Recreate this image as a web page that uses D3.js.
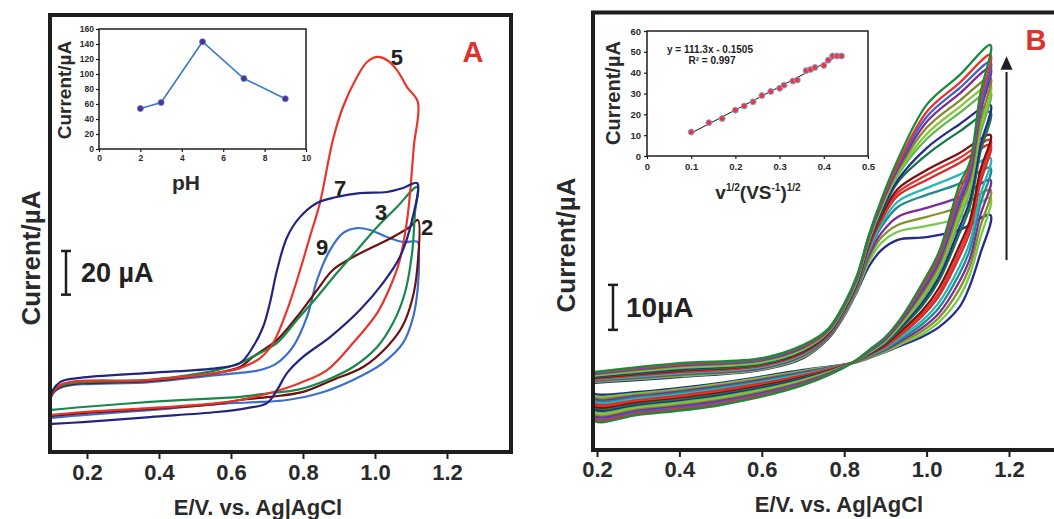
<!DOCTYPE html>
<html>
<head>
<meta charset="utf-8">
<script src="https://cdn.jsdelivr.net/npm/d3@7"></script>
<style>
  body { margin: 0; background: #fff; }
  svg { display: block; font-family: "Liberation Sans", Arial, sans-serif; font-weight: bold; }
</style>
</head>
<body>
<svg id="chart" width="1054" height="519"></svg>
<script>
// ---- panel A : CVs at different pH (E in V, I in uA, arbitrary zero) ----
const cvPH2 = [[0.10,16.5],[0.10,25.2],[0.125,29.7],[0.375,32.5],[0.561,36.2],[0.625,38.9],[0.661,43.5],[0.728,51.3],[0.783,61.8],[0.839,74.1],[0.883,83.3],[0.939,89.2],[0.994,93.8],[1.050,98.4],[1.097,103.0],[1.119,106.2],
  [1.117,83.3],[1.103,69.6],[1.075,57.2],[1.033,48.1],[0.967,38.9],[0.883,33.0],[0.800,27.5],[0.708,25.2],[0.625,23.8],[0.561,22.0],[0.375,19.7],[0.189,17.8],[0.10,16.5]];
const cvPH3 = [[0.10,19.2],[0.10,26.1],[0.125,30.2],[0.375,33.0],[0.561,37.5],[0.625,40.7],[0.653,43.0],[0.728,49.9],[0.783,60.4],[0.839,70.9],[0.894,81.9],[0.950,92.4],[1.006,103.0],[1.061,112.1],[1.117,121.3],
  [1.111,109.4],[1.103,91.1],[1.083,72.8],[1.050,59.0],[1.006,48.1],[0.939,38.9],[0.867,33.0],[0.783,28.4],[0.708,27.0],[0.625,25.2],[0.569,24.7],[0.375,22.9],[0.189,20.6],[0.10,19.2]];
const cvPH5 = [[0.10,16.9],[0.10,25.2],[0.125,30.7],[0.375,33.0],[0.561,36.2],[0.625,38.4],[0.681,43.0],[0.717,49.9],[0.756,65.0],[0.792,83.3],[0.819,98.4],[0.847,114.0],[0.883,142.8],[0.911,157.9],[0.950,171.6],[0.978,178.5],[1.006,180.8],[1.033,179.4],[1.061,174.8],[1.089,167.0],[1.119,160.2],
  [1.108,140.0],[1.097,118.0],[1.089,106.0],[1.069,87.9],[1.042,75.5],[1.006,63.6],[0.939,49.9],[0.867,37.5],[0.792,31.6],[0.708,27.0],[0.625,23.8],[0.561,22.4],[0.375,20.1],[0.189,18.3],[0.10,16.9]];
const cvPH7 = [[0.10,12.8],[0.10,26.1],[0.125,32.0],[0.181,33.9],[0.375,36.2],[0.561,38.4],[0.625,40.7],[0.661,48.1],[0.689,57.2],[0.708,68.2],[0.728,83.3],[0.756,98.4],[0.792,107.6],[0.839,114.0],[0.894,116.7],[0.958,118.5],[1.033,119.0],[1.078,120.8],[1.117,123.1],
  [1.103,106.2],[1.069,89.2],[1.022,77.3],[0.958,65.0],[0.875,52.6],[0.800,43.5],[0.756,36.2],[0.728,28.4],[0.700,22.4],[0.644,20.1],[0.561,18.3],[0.375,16.0],[0.189,13.7],[0.10,12.8]];
const cvPH9 = [[0.10,15.6],[0.10,25.2],[0.125,29.3],[0.375,32.0],[0.561,35.2],[0.625,36.2],[0.681,37.5],[0.728,40.7],[0.772,48.1],[0.811,61.8],[0.839,78.7],[0.875,92.4],[0.911,100.2],[0.950,102.5],[0.986,101.6],[1.033,98.4],[1.078,96.1],[1.119,96.1],
  [1.122,91.1],[1.119,75.5],[1.106,61.8],[1.078,49.9],[1.022,40.7],[0.939,33.0],[0.847,27.0],[0.756,23.8],[0.681,22.9],[0.569,22.0],[0.375,19.2],[0.189,16.9],[0.10,15.6]];

// inset A : peak current vs pH
const phValues = [2, 3, 5, 7, 9];
const phCurrents = [54, 62, 143, 94, 67];

// ---- panel B : CVs at increasing scan rate ----
const scanFwdE = [0.19, 0.40, 0.60, 0.70, 0.76, 0.80, 0.83, 0.86, 0.89, 0.93, 1.00, 1.08, 1.155];
const scanRevE = [1.155, 1.13, 1.105, 1.08, 1.03, 0.99, 0.94, 0.90, 0.86, 0.82, 0.70, 0.50, 0.30, 0.19];
const scanFwdI = [
  [17.3,19.3,20.4,23.3,26.8,32.5,38.5,47.8,55.6,64.5,76.7,83.3,90.0],
  [17.2,19.1,20.3,23.1,26.7,32.4,38.3,47.6,55.2,63.5,75.1,81.6,87.8],
  [17.0,19.0,20.1,23.0,26.6,32.2,38.1,47.4,55.0,63.0,74.0,80.4,86.2],
  [16.9,18.8,20.0,22.8,26.5,32.1,37.9,47.2,54.6,62.5,72.9,79.2,84.9],
  [16.8,18.6,19.8,22.6,26.3,31.9,37.7,47.0,54.3,62.0,71.6,77.6,82.7],
  [16.6,18.4,19.6,22.4,26.2,31.8,37.5,46.8,54.0,61.5,70.2,76.2,81.1],
  [16.5,18.2,19.4,22.3,26.1,31.6,37.3,46.5,53.6,61.0,69.1,74.9,79.6],
  [16.3,18.0,19.3,22.1,25.9,31.5,37.1,46.2,53.0,60.0,67.1,72.4,76.7],
  [16.2,17.8,19.1,22.0,25.8,31.3,36.9,46.0,52.6,59.5,65.6,70.8,75.1],
  [16.0,17.6,19.0,21.8,25.7,31.2,36.7,45.6,52.0,58.0,62.2,66.0,70.0],
  [15.9,17.4,18.8,21.6,25.5,31.0,36.5,45.3,51.5,57.2,61.1,64.9,68.9],
  [15.8,17.3,18.7,21.5,25.4,30.9,36.3,45.0,51.0,56.5,60.0,63.8,67.8],
  [15.6,17.1,18.5,21.3,25.3,30.7,36.1,44.5,50.2,55.2,58.2,61.2,64.9],
  [15.5,16.9,18.4,21.2,25.2,30.6,35.9,44.0,49.5,54.0,56.7,59.2,62.7],
  [15.4,16.8,18.2,21.0,25.0,30.4,35.7,43.3,48.2,51.8,53.8,56.2,60.0],
  [15.2,16.6,18.1,20.8,24.9,30.2,35.5,42.6,47.2,50.0,51.8,54.0,57.8],
  [15.1,16.4,17.9,20.6,24.8,30.0,35.2,41.8,46.0,48.5,49.8,51.6,56.0],
  [14.9,16.2,17.8,20.4,24.6,29.8,35.0,40.8,44.4,46.7,47.3,48.9,52.2]
];
const scanRevI = [
  [90.0,79.0,64.0,59.0,44.0,37.1,29.6,25.1,22.2,19.4,14.4,10.0,7.8,6.7],
  [87.8,77.5,63.0,57.5,43.2,36.5,29.4,25.0,22.1,19.4,14.6,10.3,8.1,7.0],
  [86.2,76.0,62.0,56.0,42.5,36.0,29.2,24.8,22.0,19.4,14.8,10.6,8.4,7.3],
  [84.9,74.8,61.0,55.0,41.8,35.4,28.9,24.6,21.9,19.4,15.0,10.9,8.7,7.7],
  [82.7,73.0,59.8,53.8,41.0,34.8,28.6,24.5,21.8,19.4,15.2,11.2,9.0,8.0],
  [81.1,71.5,58.5,52.5,40.2,34.2,28.3,24.3,21.7,19.4,15.4,11.5,9.3,8.4],
  [79.6,70.0,57.5,51.2,39.5,33.6,28.0,24.1,21.6,19.4,15.6,11.8,9.6,8.7],
  [76.7,67.5,55.5,49.5,38.5,32.8,27.6,23.9,21.5,19.4,15.8,12.1,9.9,9.1],
  [75.1,66.0,54.0,48.2,37.6,32.1,27.2,23.7,21.4,19.4,16.0,12.4,10.2,9.4],
  [70.0,62.0,51.0,45.5,36.0,31.0,26.6,23.4,21.3,19.4,16.2,12.7,10.5,9.8],
  [68.9,60.5,49.8,44.2,35.0,30.4,26.2,23.2,21.2,19.4,16.4,13.0,10.8,10.1],
  [67.8,59.2,48.5,43.0,34.2,29.8,25.8,23.0,21.1,19.4,16.6,13.3,11.1,10.5],
  [64.9,56.5,46.2,40.8,32.8,28.8,25.3,22.7,21.0,19.4,16.8,13.6,11.4,10.8],
  [62.7,54.5,44.5,39.2,31.6,28.0,24.8,22.5,20.9,19.4,17.0,13.9,11.7,11.2],
  [60.0,52.0,42.5,37.5,30.4,27.2,24.4,22.3,20.8,19.4,17.2,14.2,12.0,11.5],
  [57.8,49.5,40.8,35.8,29.4,26.5,24.0,22.1,20.6,19.3,17.4,14.4,12.3,11.9],
  [56.0,47.0,39.0,34.0,28.4,25.8,23.6,21.9,20.5,19.3,17.6,14.7,12.6,12.3],
  [52.2,43.5,36.5,31.8,27.3,25.2,23.3,21.8,20.4,19.3,17.8,14.9,12.9,12.7]
];
const scanColors = ['#1b8a3e','#e8322b','#3b63c9','#7e2b9b','#808a2b','#8cc63f','#5fb84a','#262c8a','#15784a',
                    '#7a1212','#e8322b','#d42b2b','#2bb7ba','#1f8b8c','#7e2b9b','#87902c','#78c94a','#262c8a'];

// inset B : peak current vs sqrt(scan rate)
const sqrtRate = [0.10,0.14,0.17,0.20,0.22,0.24,0.26,0.28,0.30,0.31,0.33,0.34,0.36,0.37,0.38,0.40,0.41,0.42,0.43,0.44];
const rateCurrents = [11.5,16,18,22,24,26,29,31,32.5,34,36,36.5,41,41.5,42.5,43.5,46,48,48,48];
const fitSlope = 111.3, fitIntercept = -0.1505;

const potentialTicks = [0.2, 0.4, 0.6, 0.8, 1.0, 1.2];

const svg = d3.select('#chart');
const ink = '#1e1e1e';

// strip d3's default axis font so the svg font is used
function styleAxis(g, size, lineW) {
  g.attr('font-family', null).attr('font-size', null);
  g.select('.domain').remove();
  g.selectAll('line').attr('stroke', ink).attr('stroke-width', lineW);
  g.selectAll('text').attr('font-size', size).attr('fill', '#2a2a2a');
}

// ---------- panel A ----------
const xA = d3.scaleLinear().domain([0.2, 1.2]).range([87, 447]);
const yA = d3.scaleLinear().domain([0, 200]).range([452, 15]);

svg.append('clipPath').attr('id', 'clipA')
  .append('rect').attr('x', 52).attr('y', 17).attr('width', 457).attr('height', 433);

const lineA = d3.line().x(d => xA(d[0])).y(d => yA(d[1])).curve(d3.curveCatmullRom.alpha(0.5));
const curvesA = [
  { data: cvPH9, color: '#3a6fd0' },
  { data: cvPH2, color: '#6e0f10' },
  { data: cvPH3, color: '#17894a' },
  { data: cvPH5, color: '#e8352b' },
  { data: cvPH7, color: '#222580' }
];
svg.append('g').attr('clip-path', 'url(#clipA)')
  .selectAll('path').data(curvesA).join('path')
  .attr('d', d => lineA(d.data))
  .attr('fill', 'none').attr('stroke', d => d.color).attr('stroke-width', 2.2);

svg.append('rect').attr('x', 50).attr('y', 15).attr('width', 461).attr('height', 437)
  .attr('fill', 'none').attr('stroke', ink).attr('stroke-width', 4);

const axA = svg.append('g').attr('transform', 'translate(0,454)')
  .call(d3.axisBottom(xA).tickValues(potentialTicks).tickFormat(d3.format('.1f')).tickSize(5).tickPadding(5));
styleAxis(axA, 22, 2);

svg.append('text').attr('x', 258).attr('y', 515).attr('text-anchor', 'middle')
  .attr('font-size', 22).attr('fill', '#2a2a2a').text('E/V. vs. Ag|AgCl');
svg.append('text').attr('transform', 'translate(40,258) rotate(-90)').attr('text-anchor', 'middle')
  .attr('font-size', 26).attr('fill', '#2a2a2a').text('Current/µA');

// scale bar 20 uA
const barA = svg.append('g').attr('stroke', ink).attr('stroke-width', 2.5);
barA.append('line').attr('x1', 66).attr('x2', 66).attr('y1', yA(92)).attr('y2', yA(72));
barA.append('line').attr('x1', 61).attr('x2', 71).attr('y1', yA(92)).attr('y2', yA(92));
barA.append('line').attr('x1', 61).attr('x2', 71).attr('y1', yA(72)).attr('y2', yA(72));
svg.append('text').attr('x', 81).attr('y', 282).attr('font-size', 27).attr('fill', '#222').text('20 µA');

// pH labels on curves
const phLabelPos = [['5', 1.061, 180.8], ['7', 0.903, 120.8], ['3', 1.017, 109.8], ['2', 1.145, 103.0], ['9', 0.853, 93.8]];
svg.append('g').selectAll('text').data(phLabelPos).join('text')
  .attr('x', d => xA(d[1])).attr('y', d => yA(d[2]) + 8)
  .attr('text-anchor', 'middle').attr('font-size', 22).attr('fill', '#222').text(d => d[0]);

svg.append('text').attr('x', 473).attr('y', 62).attr('text-anchor', 'middle')
  .attr('font-size', 29).attr('fill', '#e0322c').text('A');

// inset A
const ixA = d3.scaleLinear().domain([0, 10]).range([99, 306]);
const iyA = d3.scaleLinear().domain([0, 160]).range([149, 29]);
svg.append('rect').attr('x', 99).attr('y', 29).attr('width', 207).attr('height', 120)
  .attr('fill', '#fff').attr('stroke', ink).attr('stroke-width', 1.5);
const iaxX = svg.append('g').attr('transform', 'translate(0,149)')
  .call(d3.axisBottom(ixA).tickValues([0, 2, 4, 6, 8, 10]).tickSize(3).tickPadding(3));
const iaxY = svg.append('g').attr('transform', 'translate(99,0)')
  .call(d3.axisLeft(iyA).tickValues(d3.range(0, 161, 20)).tickSize(3).tickPadding(2));
styleAxis(iaxX, 8.5, 1.2);
styleAxis(iaxY, 8.5, 1.2);
svg.append('path')
  .attr('d', d3.line().x(d => ixA(d[0])).y(d => iyA(d[1]))(phValues.map((v, i) => [v, phCurrents[i]])))
  .attr('fill', 'none').attr('stroke', '#3a78c8').attr('stroke-width', 1.6);
svg.append('g').selectAll('circle').data(phValues).join('circle')
  .attr('cx', d => ixA(d)).attr('cy', (d, i) => iyA(phCurrents[i])).attr('r', 3)
  .attr('fill', '#5a2d90').attr('stroke', '#4b7fd0').attr('stroke-width', 0.8);
svg.append('text').attr('transform', 'translate(71,90) rotate(-90)').attr('text-anchor', 'middle')
  .attr('font-size', 19).attr('fill', '#2a2a2a').text('Current/µA');
svg.append('text').attr('x', 186).attr('y', 190).attr('text-anchor', 'middle')
  .attr('font-size', 21).attr('fill', '#2a2a2a').text('pH');

// ---------- panel B ----------
const xB = d3.scaleLinear().domain([0.2, 1.2]).range([597, 1009]);
const yB = d3.scaleLinear().domain([0, 97.33]).range([450, 12]);

svg.append('clipPath').attr('id', 'clipB')
  .append('rect').attr('x', 595).attr('y', 14.5).attr('width', 500).attr('height', 433.5);

const lineB = d3.line().x(d => xB(d[0])).y(d => yB(d[1])).curve(d3.curveCatmullRom.alpha(0.5));
const loopsB = scanFwdI.map((fwd, k) => {
  const pts = scanFwdE.map((e, i) => [e, fwd[i]]);
  scanRevE.forEach((e, i) => { if (i > 0) pts.push([e, scanRevI[k][i]]); });
  pts.push([scanFwdE[0], fwd[0]]);
  return { pts, color: scanColors[k] };
}).reverse();
svg.append('g').attr('clip-path', 'url(#clipB)')
  .selectAll('path').data(loopsB).join('path')
  .attr('d', d => lineB(d.pts))
  .attr('fill', 'none').attr('stroke', d => d.color).attr('stroke-width', 2.3);

svg.append('rect').attr('x', 593).attr('y', 12.5).attr('width', 500).attr('height', 437.5)
  .attr('fill', 'none').attr('stroke', ink).attr('stroke-width', 4);

const axB = svg.append('g').attr('transform', 'translate(0,452)')
  .call(d3.axisBottom(xB).tickValues(potentialTicks).tickFormat(d3.format('.1f')).tickSize(5).tickPadding(4));
styleAxis(axB, 22, 2);

svg.append('text').attr('x', 839).attr('y', 512).attr('text-anchor', 'middle')
  .attr('font-size', 22).attr('fill', '#2a2a2a').text('E/V. vs. Ag|AgCl');
svg.append('text').attr('transform', 'translate(575,245) rotate(-90)').attr('text-anchor', 'middle')
  .attr('font-size', 26).attr('fill', '#2a2a2a').text('Current/µA');

// scale bar 10 uA
const barB = svg.append('g').attr('stroke', ink).attr('stroke-width', 2.5);
barB.append('line').attr('x1', 613).attr('x2', 613).attr('y1', yB(36.7)).attr('y2', yB(26.7));
barB.append('line').attr('x1', 608).attr('x2', 618).attr('y1', yB(36.7)).attr('y2', yB(36.7));
barB.append('line').attr('x1', 608).attr('x2', 618).attr('y1', yB(26.7)).attr('y2', yB(26.7));
svg.append('text').attr('x', 626).attr('y', 317).attr('font-size', 28).attr('fill', '#222').text('10µA');

// arrow
svg.append('line').attr('x1', xB(1.194)).attr('x2', xB(1.194)).attr('y1', yB(42.2)).attr('y2', yB(84))
  .attr('stroke', ink).attr('stroke-width', 2);
svg.append('path')
  .attr('d', `M${xB(1.194)},${yB(87.5)} L${xB(1.194) - 6},${yB(84.5)} L${xB(1.194) + 6},${yB(84.5)} Z`)
  .attr('fill', ink);

svg.append('text').attr('x', 1036).attr('y', 50).attr('text-anchor', 'middle')
  .attr('font-size', 29).attr('fill', '#e0322c').text('B');

// inset B
const ixB = d3.scaleLinear().domain([0, 0.5]).range([647, 868]);
const iyB = d3.scaleLinear().domain([0, 60]).range([156, 31]);
svg.append('rect').attr('x', 647).attr('y', 31).attr('width', 221).attr('height', 125)
  .attr('fill', '#fff').attr('stroke', ink).attr('stroke-width', 1.5);
const ibX = svg.append('g').attr('transform', 'translate(0,156)')
  .call(d3.axisBottom(ixB).tickValues([0, 0.1, 0.2, 0.3, 0.4, 0.5]).tickFormat(d => d === 0 ? '0' : d3.format('.1f')(d)).tickSize(3).tickPadding(4));
const ibY = svg.append('g').attr('transform', 'translate(647,0)')
  .call(d3.axisLeft(iyB).tickValues(d3.range(0, 61, 10)).tickSize(3).tickPadding(3));
styleAxis(ibX, 9.5, 1.2);
styleAxis(ibY, 9.5, 1.2);
const fitX = [sqrtRate[0], sqrtRate[sqrtRate.length - 1]];
svg.append('line')
  .attr('x1', ixB(fitX[0])).attr('y1', iyB(fitSlope * fitX[0] + fitIntercept))
  .attr('x2', ixB(fitX[1])).attr('y2', iyB(fitSlope * fitX[1] + fitIntercept))
  .attr('stroke', '#111').attr('stroke-width', 1);
svg.append('g').selectAll('circle').data(sqrtRate).join('circle')
  .attr('cx', d => ixB(d)).attr('cy', (d, i) => iyB(rateCurrents[i])).attr('r', 3)
  .attr('fill', '#e63a3a').attr('stroke', '#86a8e0').attr('stroke-width', 1);
svg.append('text').attr('x', 710).attr('y', 53).attr('text-anchor', 'middle')
  .attr('font-size', 10).attr('fill', '#222').text('y = 111.3x - 0.1505');
svg.append('text').attr('x', 712).attr('y', 64).attr('text-anchor', 'middle')
  .attr('font-size', 10).attr('fill', '#222').text('R² = 0.997');
svg.append('text').attr('transform', 'translate(620,93) rotate(-90)').attr('text-anchor', 'middle')
  .attr('font-size', 20).attr('fill', '#2a2a2a').text('Current/µA');
const xlabB = svg.append('text').attr('x', 758).attr('y', 199).attr('text-anchor', 'middle')
  .attr('font-size', 19).attr('fill', '#2a2a2a');
xlabB.append('tspan').text('v');
xlabB.append('tspan').attr('font-size', 10).attr('dy', -8).text('1/2');
xlabB.append('tspan').attr('dy', 8).text('(VS');
xlabB.append('tspan').attr('font-size', 10).attr('dy', -8).text('-1');
xlabB.append('tspan').attr('dy', 8).text(')');
xlabB.append('tspan').attr('font-size', 10).attr('dy', -8).text('1/2');
</script>
</body>
</html>
